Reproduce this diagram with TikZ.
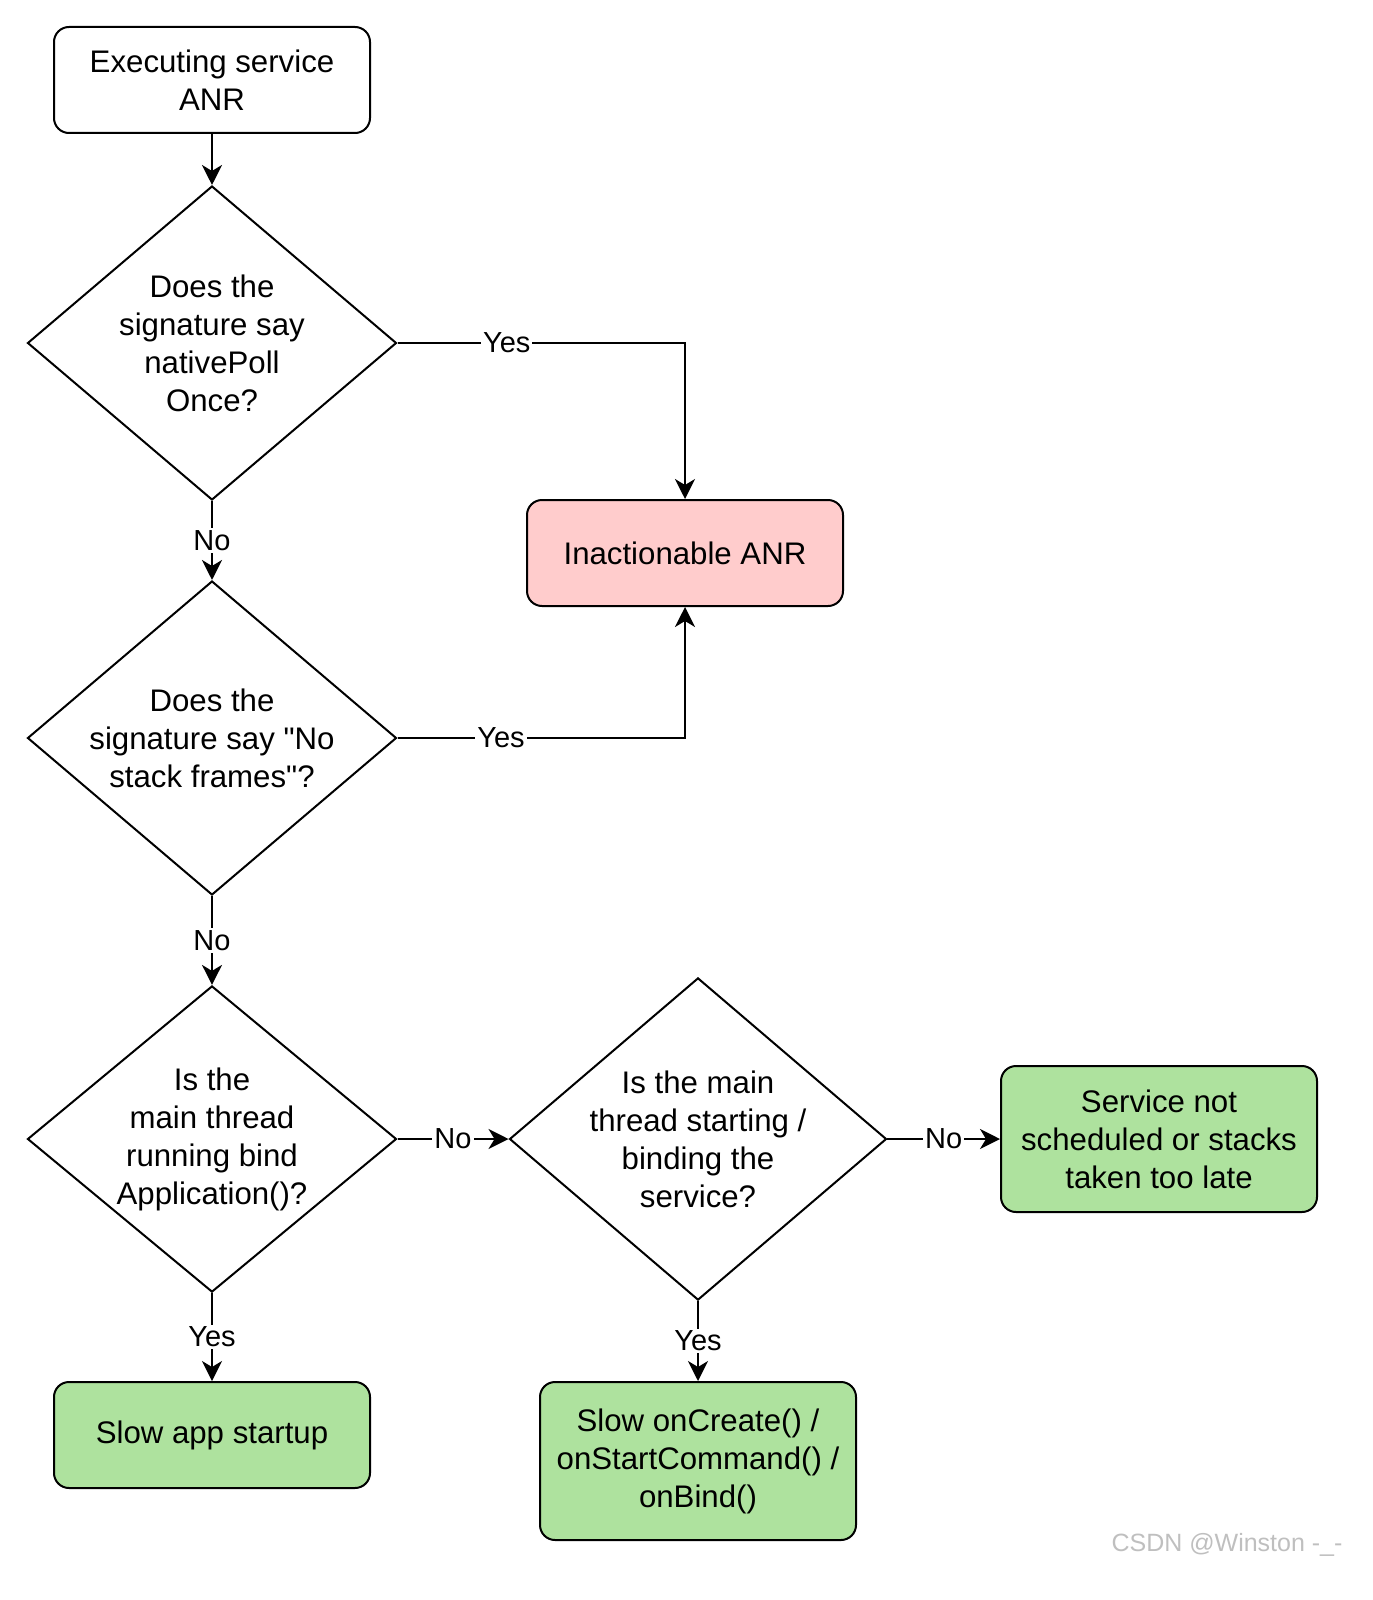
\documentclass[tikz,border=0pt]{standalone}
\usepackage{fontspec}
\setmainfont{Liberation Sans}
\usepackage{xcolor}
\usetikzlibrary{shapes,arrows.meta,positioning,calc}
\definecolor{badfill}{RGB}{255,204,204}
\definecolor{okfill}{RGB}{174,226,158}
\tikzset{
    box/.style={draw, rounded corners=7.5pt, line width=1pt, minimum width=158pt, minimum height=53pt, align=center, font=\fontsize{15.6}{19}\selectfont},
    decision/.style={draw, diamond, line width=1pt, inner sep=0pt, aspect=1.17, minimum width=184.5pt, minimum height=157pt, align=center, font=\fontsize{15.6}{19}\selectfont},
    lbl/.style={fill=white, inner sep=1pt, font=\fontsize{14.5}{17}\selectfont},
}
\begin{document}
\begin{tikzpicture}[x=0.5pt, y=-0.5pt, >={Stealth[length=10pt,width=10pt,inset=3pt]}]
    \useasboundingbox (0,0) rectangle (1372,1600);
    % nodes
    \node[box] (start) at (212,80) {Executing service\\ANR};
    \node[decision] (q1) at (212,343) {Does the\\signature say\\nativePoll\\Once?};
    \node[box, fill=badfill] (inact) at (685,553) {Inactionable ANR};
    \node[decision] (q2) at (212,738) {Does the\\signature say \textquotedbl No\\stack frames\textquotedbl ?};
    \node[decision, minimum height=151pt] (q3) at (212,1139) {Is the\\main thread\\running bind\\Application()?};
    \node[decision, minimum width=171pt, minimum height=157.5pt] (q4) at (698,1139) {Is the main\\thread starting /\\binding the\\service?};
    \node[box, fill=okfill, minimum height=73pt] (late) at (1159,1139) {Service not\\scheduled or stacks\\taken too late};
    \node[box, fill=okfill] (slowapp) at (212,1435) {Slow app startup};
    \node[box, fill=okfill, minimum height=79pt] (slowsvc) at (698,1461) {Slow onCreate() /\\onStartCommand() /\\onBind()};
    % connectors
    \draw[->, line width=1pt] (start) -- (q1);
    \draw[->, line width=1pt] (q1.east) -| node[lbl, pos=0.19] {Yes} (inact.north);
    \draw[->, line width=1pt] (q1) -- node[lbl] {No} (q2);
    \draw[->, line width=1pt] (q2.east) -| node[lbl, pos=0.18] {Yes} (inact.south);
    \draw[->, line width=1pt] (q2) -- node[lbl] {No} (q3);
    \draw[->, line width=1pt] (q3) -- node[lbl] {No} (q4);
    \draw[->, line width=1pt] (q4) -- node[lbl] {No} (late);
    \draw[->, line width=1pt] (q3) -- node[lbl] {Yes} (slowapp);
    \draw[->, line width=1pt] (q4) -- node[lbl] {Yes} (slowsvc);
    % watermark
    \node[text=black!25, font=\fontsize{12.5}{14}\selectfont] (mark) at (1227,1545) {CSDN @Winston -\_-};
\end{tikzpicture}
\end{document}
